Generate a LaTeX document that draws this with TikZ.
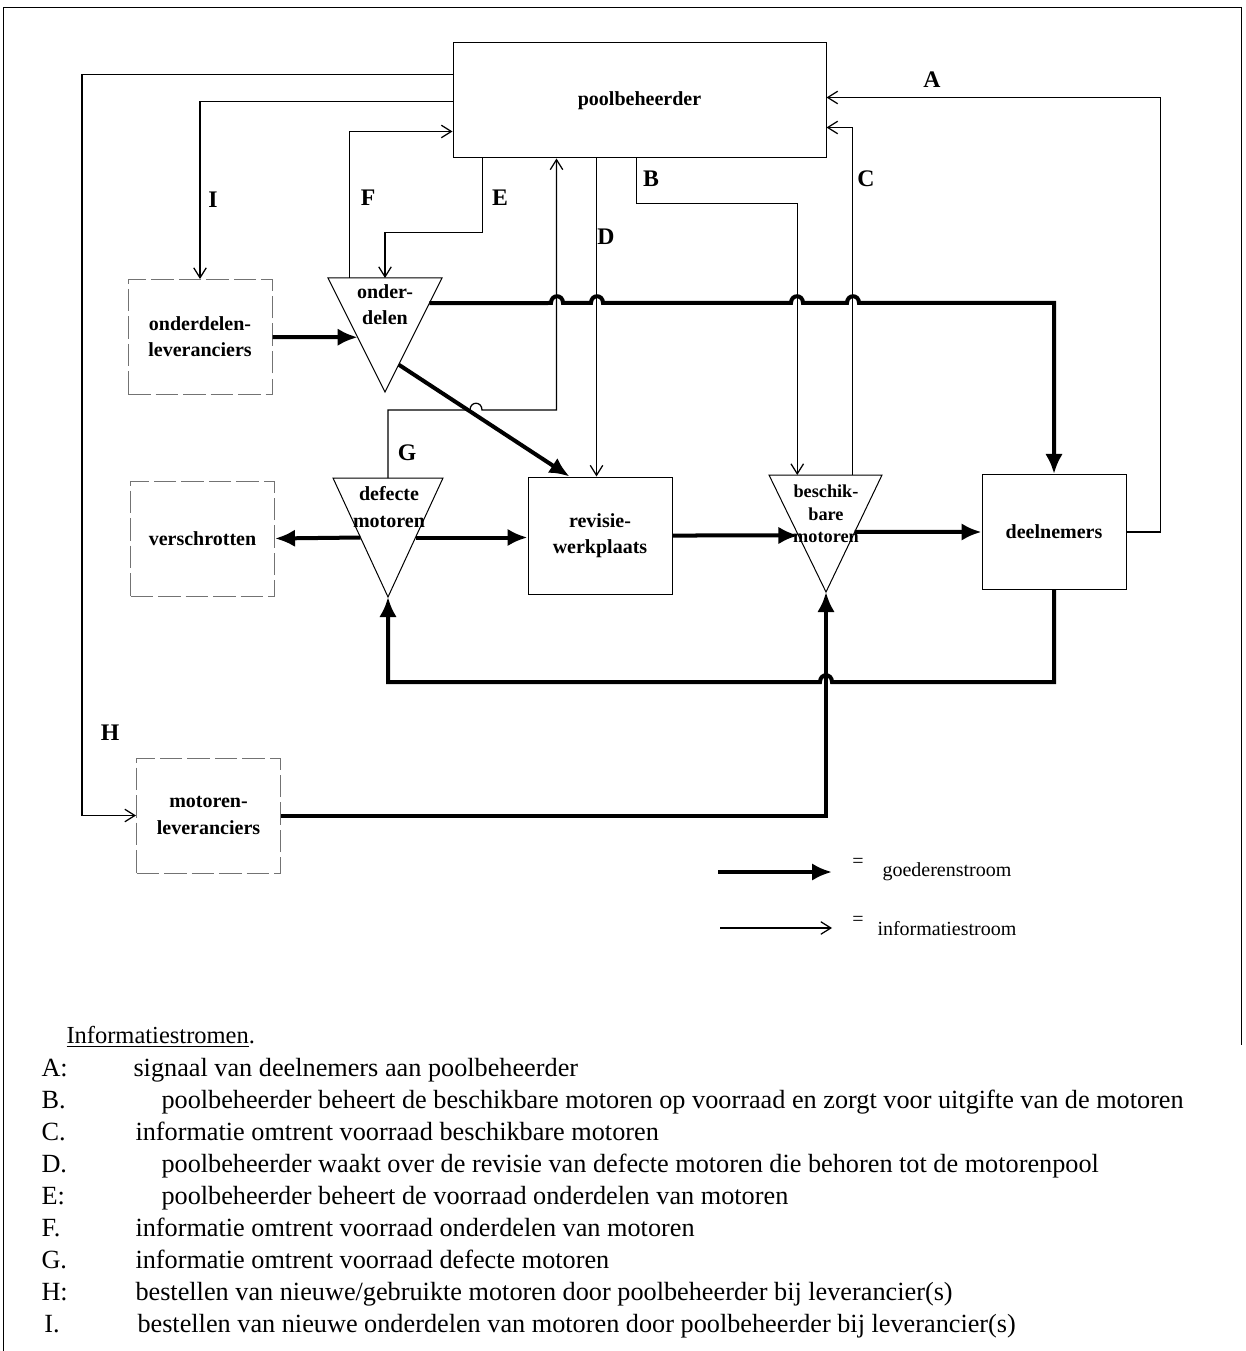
\documentclass[tikz,border=0pt]{standalone}
\usepackage{fontspec}
\setmainfont{Liberation Serif}
\usetikzlibrary{positioning,arrows.meta,calc}

\begin{document}
\begin{tikzpicture}[
    x=0.4pt, y=-0.4pt,
    font=\fontsize{8}{10.5}\selectfont\bfseries,
    vak/.style={rectangle, draw, thin, minimum width=57.6pt, minimum height=46pt,
      align=center, inner sep=2pt},
    extern/.style={vak, draw=black!55, dash pattern=on 9pt off 2pt},
    driehoek/.style={draw, thin},
    etiket/.style={align=center, inner sep=0pt},
    goed/.style={line width=1.6pt, -{Latex[length=8pt,width=7pt]}},
    info/.style={line width=0.5pt, -{Straight Barb[length=4pt,width=5pt]}},
    stroom/.style={font=\fontsize{9.5}{11}\selectfont\bfseries},
    legenda/.style={font=\fontsize{8}{10}\selectfont, inner sep=0pt},
    regel/.style={anchor=base west, inner sep=0pt, font=\fontsize{10.5}{13}\selectfont},
    hop/.style={to path={-- ($(\tikztotarget)-(#1,0)$)
      .. controls +(0,-9) and +(0,-9) .. ($(\tikztotarget)+(#1,0)$)}},
    hop/.default=6
  ]
    \useasboundingbox (0,0) rectangle (1245,1351);
    \draw[thin] (3,1351) -- (3,8) -- (1241,8) -- (1241,1045);

    \node[vak, minimum width=149.2pt] (pool) at (639.5,100.5) {poolbeheerder};
    \node[extern] (ondlev) at (200,337) {onderdelen-\\leveranciers};
    \node[extern] (verschrot) at (202.5,538.5) {verschrotten};
    \node[vak, minimum height=46.8pt] (revisie) at (600,535.5) {revisie-\\werkplaats};
    \node[vak] (deelnemers) at (1054,532) {deelnemers};
    \node[extern] (motlev) at (208.5,815.5) {motoren-\\leveranciers};

    \coordinate (ondL) at (328,278); \coordinate (ondR) at (442,278); \coordinate (ondP) at (385,392);
    \draw[driehoek] (ondL) -- (ondR) -- (ondP) -- cycle;
    \node[etiket] (onderdelen) at (385,305) {onder-\\delen};
    \coordinate (defL) at (333,478); \coordinate (defR) at (443,478); \coordinate (defP) at (388,597);
    \draw[driehoek] (defL) -- (defR) -- (defP) -- cycle;
    \node[etiket] (defect) at (389,507) {defecte\\motoren};
    \coordinate (besL) at (769,475); \coordinate (besR) at (882,475); \coordinate (besP) at (826,592);
    \draw[driehoek] (besL) -- (besR) -- (besP) -- cycle;
    \node[etiket, font=\fontsize{7.3}{9}\selectfont\bfseries] (beschik) at (826,514) {beschik-\\bare\\motoren};

    \draw[info] ($(pool.north west)+(0,32)$) -| ($(motlev.west)+(-54,0)$) -- (motlev.west);
    \draw[info] ($(pool.north west)+(0,59)$) -| (ondlev.north);
    \draw[info] ($(ondL)!0.19!(ondR)$) |- ($(pool.north west)+(0,89)$);
    \draw[info] ($(pool.south west)+(30,0)$) -- ++(0,74) -| ($(ondL)!0.5!(ondR)$);
    \draw[info] ($(defL)!0.5!(defR)$) -- ++(0,-68) to[hop] (476,410) -| ($(pool.south west)+(104,0)$);
    \draw[info] ($(pool.south west)+(144,0)$) coordinate (d0) -- (d0 |- revisie.north);
    \draw[info] ($(pool.south west)+(184,0)$) -- ++(0,45) -| ($(besL)!0.25!(besR)$);
    \draw[info] ($(besL)!0.74!(besR)$) |- ($(pool.north east)+(0,85)$);
    \draw[info] (deelnemers.east) -- ++(34,0) |- ($(pool.north east)+(0,55)$);

    \node[stroom] (lA) at (932,80) {A};
    \node[stroom] (lB) at (651,179) {B};
    \node[stroom] (lC) at (866,179) {C};
    \node[stroom] (lD) at (606,237) {D};
    \node[stroom] (lE) at (500,198) {E};
    \node[stroom] (lF) at (368,198) {F};
    \node[stroom] (lG) at (407,453) {G};
    \node[stroom] (lH) at (110,733) {H};
    \node[stroom] (lI) at (213,200) {I};

    \draw[goed] (ondlev.east) -- ($(ondL)!0.52!(ondP)$);
    \draw[goed] ($(ondR)!0.22!(ondP)$) to[hop] (557,303) to[hop] (597,303)
      to[hop] (797,303) to[hop] (853,303) -| (deelnemers.north);
    \draw[goed] ($(ondR)!0.76!(ondP)$) -- ($(revisie.north west)+(42,0)$);
    \draw[goed] ($(defL)!0.5!(defP)$) -- (verschrot.east);
    \draw[goed] ($(defR)!0.5!(defP)$) coordinate (d1) -- (d1 -| revisie.west);
    \draw[goed] (revisie.east) -- ($(besL)!0.517!(besP)$);
    \draw[goed] ($(besR)!0.487!(besP)$) -- (deelnemers.west);
    \draw[goed] (deelnemers.south) -- ++(0,92) to[hop=-6] (826,682) -| (defP);
    \draw[goed] (motlev.east) -| (besP);

    \coordinate (lg1) at (718,872); \coordinate (lg2) at (832,872);
    \draw[goed] (lg1) -- (lg2);
    \node[legenda] (isg) at (858,863) {=};
    \node[legenda, anchor=west] (goedtxt) at (882,872) {goederenstroom};
    \coordinate (li1) at (720,928); \coordinate (li2) at (832,928);
    \draw[info] (li1) -- (li2);
    \node[legenda] (isi) at (858,921) {=};
    \node[legenda, anchor=west] (infotxt) at (877,929) {informatiestroom};

    \node[regel, font=\fontsize{9.8}{13}\selectfont] (kop) at (66,1043) {\underline{Informatiestromen}.};
    \node[regel] (kA) at (41,1076) {A:};
    \node[regel] (tA) at (133,1076) {signaal van deelnemers aan poolbeheerder};
    \node[regel] (kB) at (41,1108) {B.};
    \node[regel] (tB) at (161,1108) {poolbeheerder beheert de beschikbare motoren op voorraad en zorgt voor uitgifte van de motoren};
    \node[regel] (kC) at (41,1140) {C.};
    \node[regel] (tC) at (135,1140) {informatie omtrent voorraad beschikbare motoren};
    \node[regel] (kD) at (41,1172) {D.};
    \node[regel] (tD) at (161,1172) {poolbeheerder waakt over de revisie van defecte motoren die behoren tot de motorenpool};
    \node[regel] (kE) at (41,1204) {E:};
    \node[regel] (tE) at (161,1204) {poolbeheerder beheert de voorraad onderdelen van motoren};
    \node[regel] (kF) at (41,1236) {F.};
    \node[regel] (tF) at (135,1236) {informatie omtrent voorraad onderdelen van motoren};
    \node[regel] (kG) at (41,1268) {G.};
    \node[regel] (tG) at (135,1268) {informatie omtrent voorraad defecte motoren};
    \node[regel] (kH) at (41,1300) {H:};
    \node[regel] (tH) at (135,1300) {bestellen van nieuwe/gebruikte motoren door poolbeheerder bij leverancier(s)};
    \node[regel] (kI) at (44,1332) {I.};
    \node[regel] (tI) at (137,1332) {bestellen van nieuwe onderdelen van motoren door poolbeheerder bij leverancier(s)};
  \end{tikzpicture}
\end{document}
